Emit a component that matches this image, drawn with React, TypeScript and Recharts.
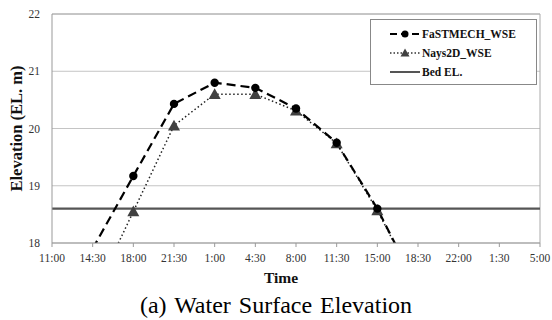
import React from 'react'
import {
  LineChart, Line, XAxis, YAxis, CartesianGrid, ReferenceLine,
} from 'recharts'

// tick labels along the time axis (3.5 h steps)
const timeLabels = [
  '11:00', '14:30', '18:00', '21:30', '1:00', '4:30', '8:00',
  '11:30', '15:00', '18:30', '22:00', '1:30', '5:00',
]

const fastmechWse = [null, 17.9, 19.17, 20.43, 20.8, 20.71, 20.35, 19.75, 18.6, 17.2, null, null, null]
const nays2dWse = [null, 17.05, 18.55, 20.05, 20.6, 20.6, 20.31, 19.74, 18.57, 17.2, null, null, null]
const bedEl = 18.6

const yTicks = [18, 19, 20, 21, 22]

const data = timeLabels.map((t, i) => ({
  time: t,
  fastmech: fastmechWse[i],
  nays: nays2dWse[i],
  bed: bedEl,
}))

const serif = '"Liberation Serif", "DejaVu Serif", serif'

// markers only drawn inside the plot (values below 18 are clipped)
const CircleDot = (props: any) => {
  const { cx, cy, value, index } = props
  if (value == null || value < 18 || cx == null) return <g key={index} />
  return <circle key={index} cx={cx} cy={cy} r={4.2} fill="#000" />
}

const TriangleDot = (props: any) => {
  const { cx, cy, value, index } = props
  if (value == null || value < 18 || cx == null) return <g key={index} />
  const s = 6
  return (
    <polygon
      key={index}
      points={`${cx},${cy - s} ${cx - s},${cy + s * 0.8} ${cx + s},${cy + s * 0.8}`}
      fill="#404040"
    />
  )
}

const legendRow = { display: 'flex', alignItems: 'center', height: 19 } as const

const LegendBox = () => (
  <div
    style={{
      position: 'absolute',
      left: 370,
      top: 19,
      border: '1px solid #888',
      background: '#fff',
      width: 167,
      height: 66,
      boxSizing: 'border-box',
      fontFamily: serif,
      fontWeight: 'bold',
      fontSize: 11.5,
      color: '#111',
      padding: '4px 0 0 19px',
    }}
  >
    <div style={legendRow}>
      <svg width={30} height={12}>
        <line x1={0} y1={6} x2={30} y2={6} stroke="#000" strokeWidth={2} strokeDasharray="7 4" />
        <circle cx={15} cy={6} r={3.5} fill="#000" />
      </svg>
      <span style={{ marginLeft: 2 }}>FaSTMECH_WSE</span>
    </div>
    <div style={legendRow}>
      <svg width={30} height={12}>
        <line x1={0} y1={6} x2={30} y2={6} stroke="#333" strokeWidth={1.4} strokeDasharray="1.5 2" />
        <polygon points="15,1.5 10.5,9.5 19.5,9.5" fill="#404040" />
      </svg>
      <span style={{ marginLeft: 2 }}>Nays2D_WSE</span>
    </div>
    <div style={legendRow}>
      <svg width={30} height={12}>
        <line x1={0} y1={6} x2={30} y2={6} stroke="#555" strokeWidth={2} />
      </svg>
      <span style={{ marginLeft: 2 }}>Bed EL.</span>
    </div>
  </div>
)

export default function App() {
  return (
    <div style={{ position: 'absolute', left: 0, top: 0, width: 552, height: 320, background: '#fff' }}>
      <LineChart
        width={552}
        height={290}
        data={data}
        margin={{ top: 14, right: 12, bottom: 11, left: 12 }}
      >
        <CartesianGrid horizontal vertical={false} stroke="#b5b5b5" strokeWidth={0.8} />
        <XAxis
          dataKey="time"
          interval={0}
          height={36}
          tick={{ fill: '#333', fontSize: 11.5, fontFamily: serif, dy: 5 }}
          tickSize={4}
          axisLine={{ stroke: '#999' }}
          tickLine={{ stroke: '#999' }}
          label={{
            value: 'Time',
            position: 'insideBottom',
            offset: -4,
            dx: -15,
            style: { fill: '#111', fontSize: 15.5, fontWeight: 'bold', fontFamily: serif },
          }}
        />
        <YAxis
          type="number"
          domain={[18, 22]}
          ticks={yTicks}
          allowDataOverflow
          width={40}
          tick={{ fill: '#333', fontSize: 11.5, fontFamily: serif }}
          tickSize={10}
          tickLine={false}
          axisLine={{ stroke: '#999' }}
          label={{
            value: 'Elevation (EL. m)',
            angle: -90,
            position: 'insideLeft',
            offset: 0,
            dx: 4,
            style: { textAnchor: 'middle', fill: '#111', fontSize: 16.5, fontWeight: 'bold', fontFamily: serif },
          }}
        />
        <ReferenceLine y={22} stroke="#aaa" />
        <ReferenceLine x="5:00" stroke="#aaa" />
        <Line
          dataKey="bed"
          stroke="#555"
          strokeWidth={2.2}
          dot={false}
          isAnimationActive={false}
        />
        <Line
          dataKey="nays"
          stroke="#222"
          strokeWidth={1.5}
          strokeDasharray="1.5 2.5"
          dot={<TriangleDot />}
          isAnimationActive={false}
        />
        <Line
          dataKey="fastmech"
          stroke="#000"
          strokeWidth={2.2}
          strokeDasharray="9 5"
          dot={<CircleDot />}
          isAnimationActive={false}
        />
      </LineChart>
      <LegendBox />
      <div
        style={{
          position: 'absolute',
          left: 0,
          top: 293,
          width: 552,
          textAlign: 'center',
          fontFamily: '"Liberation Serif", "Times New Roman", serif',
          fontSize: 24,
          lineHeight: '24px',
          wordSpacing: 2,
          color: '#000',
        }}
      >
        (a) Water Surface Elevation
      </div>
    </div>
  )
}
